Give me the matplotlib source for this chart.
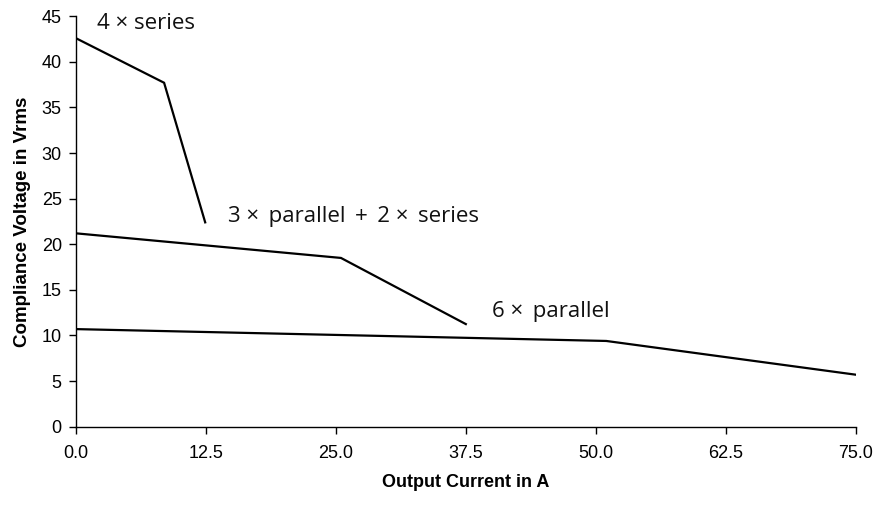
import matplotlib
matplotlib.use("Agg")
import matplotlib.pyplot as plt

# 4 x series
series4_i = [0.0, 8.5, 12.45]
series4_v = [42.6, 37.7, 22.4]
# 3 x parallel + 2 x series
par3_i = [0.0, 25.5, 37.5]
par3_v = [21.2, 18.5, 11.25]
# 6 x parallel
par6_i = [0.0, 51.0, 75.0]
par6_v = [10.7, 9.4, 5.7]

labels = ["4 \u00d7 series",
          "3 \u00d7 \u2009parallel \u2009+\u2009 2 \u00d7 \u2009series",
          "6 \u00d7 \u2009parallel"]
label_pos = [(2.05, 43.6), (14.65, 22.4), (40.0, 12.05)]

x_ticks = [0.0, 12.5, 25.0, 37.5, 50.0, 62.5, 75.0]
y_ticks = list(range(0, 50, 5))

plt.rcParams['font.family'] = ['Liberation Sans', 'DejaVu Sans']

fig = plt.figure(figsize=(8.87, 5.05), dpi=100)
ax = fig.add_axes([0.0853, 0.155, 0.8797, 0.813])

for xs, ys in [(series4_i, series4_v), (par3_i, par3_v), (par6_i, par6_v)]:
    ax.plot(xs, ys, color='black', lw=1.6, solid_joinstyle='miter')

for txt, (tx, ty) in zip(labels, label_pos):
    ax.text(tx, ty, txt, fontsize=16, family=['Open Sans', 'DejaVu Sans'],
            ha='left', va='baseline', color='#111111')

ax.set_xlim(0, 75)
ax.set_ylim(0, 45)
ax.set_xticks(x_ticks)
ax.set_xticklabels([f"{v:.1f}" for v in x_ticks])
ax.set_yticks(y_ticks)

for s in ['top', 'right']:
    ax.spines[s].set_visible(False)
for s in ['left', 'bottom']:
    ax.spines[s].set_linewidth(1.0)

ax.tick_params(axis='both', direction='out', length=5, width=1.0, labelsize=13)
ax.tick_params(axis='x', pad=8)
ax.tick_params(axis='y', pad=5)

ax.set_xlabel("Output Current in A", fontsize=13, fontweight='bold', labelpad=9)
ax.set_ylabel("Compliance Voltage in Vrms", fontsize=13.5, fontweight='bold', labelpad=8)

fig.savefig("out.png", dpi=100)
